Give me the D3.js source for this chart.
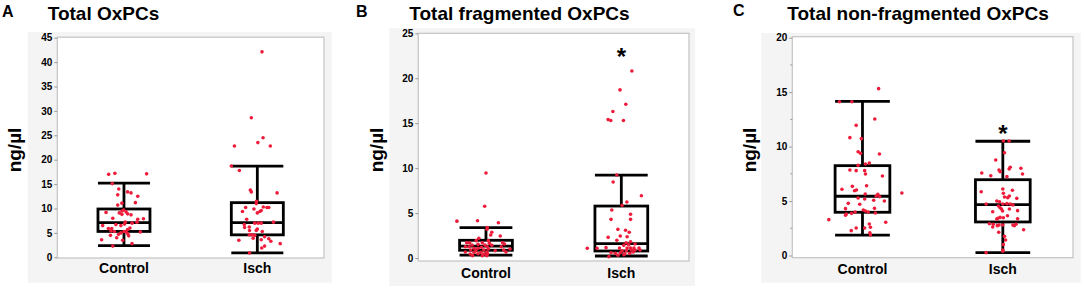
<!DOCTYPE html>
<html>
<head>
<meta charset="utf-8">
<script src="https://cdn.jsdelivr.net/npm/d3@7"></script>
<style>
  body { margin: 0; background: #fff; }
  svg { display: block; font-family: 'Liberation Sans', Arial, sans-serif; }
  .tick-label { font-size: 10px; font-weight: bold; fill: #000; }
  .title { font-size: 19px; font-weight: bold; }
  .letter { font-size: 16px; font-weight: bold; }
  .cat-label { font-size: 14px; font-weight: bold; }
  .y-title { font-size: 19px; font-weight: bold; }
</style>
</head>
<body>
<div id="chart"></div>
<script>
// ---- data ----
const categories = ['Control', 'Isch'];
const panelLetters = ['A', 'B', 'C'];
const panelTitles = ['Total OxPCs', 'Total fragmented OxPCs', 'Total non-fragmented OxPCs'];
const yLabel = 'ng/µl';

const ticksA = [0, 5, 10, 15, 20, 25, 30, 35, 40, 45];
const ticksB = [0, 5, 10, 15, 20, 25];
const ticksC = [0, 5, 10, 15, 20];
const minorTicksC = [2.5, 7.5, 12.5, 17.5];

// box stats per category: [lower whisker, Q1, median, Q3, upper whisker]
const statsA = [[2.4, 5.3, 7.1, 9.9, 15.2], [0.9, 4.6, 7.1, 11.2, 18.7]];
const statsB = [[0.33, 0.86, 1.33, 1.97, 3.37], [0.22, 0.78, 1.59, 5.78, 9.23]];
const statsC = [[1.88, 3.97, 5.44, 8.25, 14.16], [0.26, 3.08, 4.67, 6.96, 10.49]];

// significance marks (value where the star sits, per category; null = none)
const starsA = [null, null];
const starsB = [null, 21.5];
const starsC = [null, 10.4];

// points: [value, jitter as fraction of half box width]
const pointsAControl = [[17.0,-0.59],[17.2,-0.35],[17.1,0.87],[15.1,-0.45],[14.0,-0.2],[12.8,-0.24],[13.4,0.14],[13.2,0.27],[12.5,0.53],[11.2,0.44],[10.7,-0.24],[11.1,-0.08],[9.2,-0.69],[9.1,-0.18],[9.5,-0.08],[9.7,-0.01],[9.3,0.08],[8.9,0.14],[8.8,-0.08],[8.7,0.27],[7.9,0.75],[7.8,0.53],[8.0,-0.43],[6.5,-0.82],[7.2,0.05],[7.0,0.31],[7.2,0.5],[6.7,-0.31],[6.5,-0.12],[6.8,0.02],[5.9,-0.6],[5.9,-0.47],[5.7,0.14],[6.0,0.23],[5.4,-0.5],[5.3,-0.37],[5.0,-0.12],[5.3,0],[5.2,0.08],[4.7,-0.21],[4.8,0.15],[5.2,0.63],[4.5,-0.52],[4.0,-0.28],[3.5,-0.05],[4.4,0.18],[3.6,-0.86],[2.8,0.31],[2.3,-0.43]];
const pointsAIsch = [[42.1,0.18],[28.6,-0.23],[24.5,0.22],[23.5,0.02],[22.8,-0.88],[22.8,0.5],[18.7,-1.0],[17.8,-0.69],[13.8,-0.27],[13.4,-0.23],[13.2,0.76],[11.5,-0.03],[11.0,-0.04],[10.2,-0.45],[9.4,-0.57],[10.3,0.23],[10.2,0.37],[10.2,0.44],[9.6,0.15],[9.4,0.1],[9.9,-0.13],[9.1,0],[7.8,-0.41],[6.7,-0.5],[7.0,-0.1],[7.0,0.03],[7.0,0.15],[7.2,0.62],[6.1,-0.49],[6.2,-0.31],[5.5,-0.3],[5.5,-0.04],[5.8,0],[5.3,0.19],[4.6,-0.31],[4.6,-0.21],[4.5,-0.1],[3.9,-0.16],[4.2,0.28],[3.8,0.44],[3.6,0.15],[3.5,-0.71],[3.3,0.52],[2.8,0.88],[2.3,0.28],[1.9,0.17],[0.9,-0.3]];
const pointsBControl = [[9.45,0],[5.75,-0.05],[4.1,-1.1],[4.15,-0.32],[3.93,0.47],[3.4,0.05],[3.2,0.04],[2.86,0.22],[2.56,0.18],[2.45,0.54],[2.19,-0.27],[1.93,-0.37],[1.93,0.09],[1.7,-0.73],[1.7,-0.62],[1.7,-0.14],[1.63,0.13],[1.7,0.63],[1.56,0.7],[1.45,-0.53],[1.52,-0.3],[1.45,-0.04],[1.41,0.22],[1.26,-0.78],[1.26,-0.64],[1.19,-0.17],[1.26,0.05],[1.26,0.58],[1.0,0.91],[1.08,-0.45],[1.08,-0.3],[1.0,0.09],[0.89,-0.58],[0.81,-0.38],[0.89,-0.08],[0.67,-0.78],[0.63,-0.45],[0.63,-0.19],[0.67,0.03],[0.81,0.35],[0.89,0.67],[0.67,0.76],[0.44,-0.6],[0.48,-0.3],[0.44,-0.07],[0.48,0.06],[0.26,-0.51],[0.26,-0.14],[0.26,0.03]];
const pointsBIsch = [[20.8,0.4],[18.7,-0.05],[17.1,0.17],[16.3,-0.32],[15.4,-0.5],[15.3,-0.4],[15.3,0.08],[9.23,-0.17],[8.45,-0.31],[6.93,0.76],[6.23,0.21],[5.86,0.03],[5.34,-0.36],[4.86,0.35],[4.3,0.35],[4.3,-0.39],[3.19,-0.13],[3.08,0.16],[2.86,0.3],[2.45,-0.04],[2.37,0.22],[2.3,-0.5],[1.97,-0.17],[1.81,0.35],[1.7,0.18],[1.56,0.52],[1.48,0.28],[1.41,0.09],[1.08,-1.29],[1.08,-0.92],[1.15,-0.58],[1.1,-0.07],[1.1,0.22],[1.1,0.35],[1.1,0.48],[1.1,0.67],[0.81,0.03],[0.81,0.19],[0.89,0.38],[0.89,0.52],[0.89,0.71],[0.59,-0.39],[0.52,-0.23],[0.59,-0.04],[0.48,0.13],[0.52,0.32],[0.67,0.45],[0.15,-0.47],[0.3,-0.13],[0.37,0.1]];
const pointsCControl = [[15.32,0.59],[14.12,-0.84],[14.12,-0.39],[12.53,0.45],[11.95,-0.23],[10.82,-0.46],[10.73,-0.04],[9.53,-0.16],[9.38,-0.07],[9.32,0.62],[8.49,0.25],[8.4,0.11],[8.28,-0.16],[7.85,-0.46],[7.79,-0.23],[7.79,0.08],[7.48,0.11],[7.3,0.73],[6.41,0.15],[6.35,-0.37],[6.08,-0.75],[5.95,-0.29],[6.01,-0.22],[5.74,1.44],[5.62,0.56],[5.46,0.5],[5.4,0.63],[5.65,0.1],[5.28,-0.16],[5.19,0.08],[5.07,0.41],[5.0,0.8],[4.79,-0.52],[4.7,-0.1],[4.3,-0.62],[4.33,0.44],[4.18,0.03],[4.09,0.11],[3.99,0.21],[3.99,-0.27],[3.87,-0.4],[3.81,-0.59],[3.9,0.47],[3.69,-0.62],[3.29,-1.23],[3.05,0.85],[2.89,0.25],[2.53,-0.23],[2.59,0.29],[2.53,0.08],[2.28,-0.41],[2.09,0.27],[1.88,0.29]];
const pointsCIsch = [[10.51,0.02],[10.51,0.23],[9.44,0.06],[8.77,-0.26],[8.1,0.27],[7.94,0.23],[7.85,-0.14],[7.7,-0.1],[8.01,0.66],[7.58,-0.77],[7.33,-0.44],[7.24,0.15],[7.48,0.72],[6.11,0],[5.99,0.35],[5.71,0.02],[5.46,0.24],[5.31,0.18],[5.37,0.06],[5.86,-0.79],[5.25,0.51],[5.0,-0.22],[4.94,-0.12],[4.73,0],[4.76,0.15],[4.73,0.27],[4.73,-0.61],[4.55,-0.16],[4.39,-0.1],[4.27,-0.05],[4.64,0.37],[4.27,0.24],[4.09,-0.01],[4.12,0.54],[4.02,-0.37],[3.65,0.17],[3.47,0.02],[3.5,-0.1],[3.42,-0.18],[3.35,-0.22],[3.38,0.54],[2.8,0],[2.87,0.48],[2.8,0.37],[2.74,0.42],[2.92,-0.49],[2.87,-0.35],[2.8,-0.14],[2.62,-0.37],[2.74,-0.2],[2.37,0.76],[2.13,-0.15],[1.76,0.06],[1.42,0.1],[1.0,0.02],[0.51,0],[0.39,0],[0.26,-0.61]];

class BoxJitterPanel {
  constructor(_config, _data) {
    this.config = _config;
    this.data = _data;
    this.initVis();
  }

  initVis() {
    const vis = this;
    const c = vis.config;

    vis.g = c.svg.append('g');

    // light grey backdrop and white plot frame
    vis.g.append('rect')
      .attr('x', c.bg[0]).attr('y', c.bg[1])
      .attr('width', c.bg[2] - c.bg[0]).attr('height', c.bg[3] - c.bg[1])
      .attr('fill', '#f4f4f4');

    vis.g.append('rect')
      .attr('x', c.frame[0]).attr('y', c.frame[1])
      .attr('width', c.frame[2] - c.frame[0]).attr('height', c.frame[3] - c.frame[1])
      .attr('fill', '#fff')
      .attr('stroke', '#c4c4c4')
      .attr('stroke-width', 1.2);

    vis.xScale = d3.scalePoint()
      .domain(categories)
      .range([c.frame[0], c.frame[2]])
      .padding(0.5);

    vis.yScale = d3.scaleLinear()
      .domain([0, d3.max(vis.data.ticks)])
      .range(c.yRange);

    vis.boxWidth = (c.frame[2] - c.frame[0]) * 0.195;
    vis.jitter = d3.scaleLinear().domain([-1, 1]).range([-vis.boxWidth / 2, vis.boxWidth / 2]);

    vis.renderVis();
  }

  renderVis() {
    const vis = this;
    const c = vis.config;
    const d = vis.data;

    // y axis
    const yAxis = d3.axisLeft(vis.yScale)
      .tickValues(d.ticks)
      .tickSize(3)
      .tickPadding(2)
      .tickFormat(d3.format('d'));

    const yAxisG = vis.g.append('g')
      .attr('transform', `translate(${c.frame[0]},0)`)
      .call(yAxis)
      .call((g) => g.select('.domain').remove());
    yAxisG.selectAll('.tick line').attr('stroke', '#999');
    yAxisG.selectAll('.tick text').attr('class', 'tick-label').attr('font-family', null).attr('font-size', null);

    if (d.minorTicks) {
      vis.g.selectAll('.minor')
        .data(d.minorTicks)
        .join('line')
        .attr('class', 'minor')
        .attr('x1', c.frame[0] - 2).attr('x2', c.frame[0])
        .attr('y1', (v) => vis.yScale(v)).attr('y2', (v) => vis.yScale(v))
        .attr('stroke', '#999');
    }

    // category labels
    vis.g.selectAll('.cat-label')
      .data(categories)
      .join('text')
      .attr('class', 'cat-label')
      .attr('x', (k) => vis.xScale(k))
      .attr('y', c.frame[3] + c.catGap)
      .attr('text-anchor', 'middle')
      .text((k) => k);

    // boxes
    const boxes = vis.g.selectAll('.box')
      .data(d.stats.map((s, i) => ({ key: categories[i], s })))
      .join('g')
      .attr('class', 'box')
      .attr('stroke', '#000')
      .attr('stroke-width', 2.8)
      .attr('fill', 'none');

    const half = vis.boxWidth / 2;
    boxes.append('line')
      .attr('x1', (b) => vis.xScale(b.key)).attr('x2', (b) => vis.xScale(b.key))
      .attr('y1', (b) => vis.yScale(b.s[4])).attr('y2', (b) => vis.yScale(b.s[3]));
    boxes.append('line')
      .attr('x1', (b) => vis.xScale(b.key)).attr('x2', (b) => vis.xScale(b.key))
      .attr('y1', (b) => vis.yScale(b.s[1])).attr('y2', (b) => vis.yScale(b.s[0]));
    [0, 4, 2].forEach((idx) => {
      boxes.append('line')
        .attr('x1', (b) => vis.xScale(b.key) - half).attr('x2', (b) => vis.xScale(b.key) + half)
        .attr('y1', (b) => vis.yScale(b.s[idx])).attr('y2', (b) => vis.yScale(b.s[idx]));
    });
    boxes.append('rect')
      .attr('x', (b) => vis.xScale(b.key) - half)
      .attr('width', vis.boxWidth)
      .attr('y', (b) => vis.yScale(b.s[3]))
      .attr('height', (b) => vis.yScale(b.s[1]) - vis.yScale(b.s[3]));

    // jittered points
    const pts = [];
    d.points.forEach((arr, i) => arr.forEach((p) => pts.push({ key: categories[i], v: p[0], j: p[1] })));
    vis.g.selectAll('.pt')
      .data(pts)
      .join('circle')
      .attr('class', 'pt')
      .attr('cx', (p) => vis.xScale(p.key) + vis.jitter(p.j))
      .attr('cy', (p) => vis.yScale(p.v))
      .attr('r', 1.8)
      .attr('fill', '#ee1c3a');

    // significance stars
    vis.g.selectAll('.star')
      .data(d.stars.map((v, i) => ({ key: categories[i], v })).filter((s) => s.v !== null))
      .join('text')
      .attr('class', 'star')
      .attr('x', (s) => vis.xScale(s.key))
      .attr('y', (s) => vis.yScale(s.v))
      .attr('text-anchor', 'middle')
      .attr('font-size', 24)
      .attr('font-weight', 'bold')
      .text('*');

    // letter, title, y title
    vis.g.append('text').attr('class', 'letter')
      .attr('x', c.letterX).attr('y', c.letterY).text(d.letter);
    vis.g.append('text').attr('class', 'title')
      .attr('x', c.titleX).attr('y', 20).text(d.title);
    vis.g.append('text').attr('class', 'y-title')
      .attr('transform', `translate(${c.yTitleX},150) rotate(-90)`)
      .attr('text-anchor', 'middle')
      .text(yLabel);
  }
}

const svg = d3.select('#chart').append('svg')
  .attr('width', 1084)
  .attr('height', 292);

const layouts = [
  { bg: [27.7, 32, 331.7, 282.7], frame: [57.3, 37.2, 324, 258], yRange: [257.3, 37.7], catGap: 14.5, letterX: 2, letterY: 17, titleX: 47.7, yTitleX: 21 },
  { bg: [389.3, 28.3, 695, 286], frame: [418.3, 33.3, 689, 261], yRange: [258, 33.3], catGap: 16.5, letterX: 356, letterY: 17, titleX: 409.3, yTitleX: 382.7 },
  { bg: [761.3, 33, 1080.7, 282.7], frame: [792.3, 36.7, 1073, 257.7], yRange: [255.5, 37.7], catGap: 16, letterX: 733, letterY: 16, titleX: 787.3, yTitleX: 756 },
];

const panelData = [
  { ticks: ticksA, stats: statsA, stars: starsA, points: [pointsAControl, pointsAIsch] },
  { ticks: ticksB, stats: statsB, stars: starsB, points: [pointsBControl, pointsBIsch] },
  { ticks: ticksC, minorTicks: minorTicksC, stats: statsC, stars: starsC, points: [pointsCControl, pointsCIsch] },
];

panelData.forEach((pd, i) => {
  new BoxJitterPanel(
    { svg, ...layouts[i] },
    { ...pd, letter: panelLetters[i], title: panelTitles[i] },
  );
});
</script>
</body>
</html>
